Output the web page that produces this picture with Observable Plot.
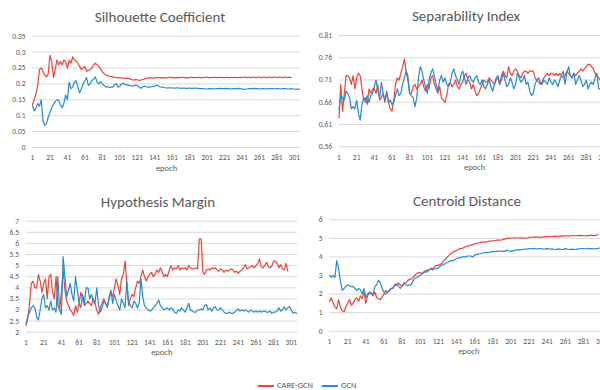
<!DOCTYPE html>
<html><head><meta charset="utf-8">
<script src="https://cdn.jsdelivr.net/npm/d3@7"></script>
<script src="https://cdn.jsdelivr.net/npm/@observablehq/plot@0.6"></script>
<style>
html,body{margin:0;padding:0;background:#fff;}
#wrap{position:relative;width:600px;height:390px;overflow:hidden;font-family:Carlito,Lato,sans-serif;color:#595959;}
.panel{position:absolute;}
.panel svg{max-width:none !important;}
.title{position:absolute;width:240px;text-align:center;font-size:15px;line-height:18px;color:#595959;white-space:nowrap;}
.leg{position:absolute;font-size:8.5px;line-height:12px;white-space:nowrap;color:#595959;}
.sw{display:inline-block;width:16px;height:1.5px;vertical-align:middle;margin-right:3px;}
</style></head>
<body><div id="wrap"></div>
<script>
const seriesNames = ["CARE-GCN", "GCN"];
const seriesColors = ["#e8453c", "#2a8ad0"];
const xTicks = [1,21,41,61,81,101,121,141,161,181,201,221,241,261,281,301];

// values every 2 epochs (1, 3, 5, ...)
const silCare = [
0.135,0.15,0.17,0.195,0.245,0.25,0.24,0.228,0.222,0.232,
0.29,0.27,0.22,0.245,0.275,0.26,0.27,0.26,0.275,0.27,
0.25,0.275,0.265,0.285,0.275,0.272,0.265,0.255,0.245,0.25,
0.255,0.24,0.242,0.245,0.25,0.26,0.265,0.26,0.255,0.247,
0.238,0.232,0.228,0.226,0.224,0.223,0.222,0.221,0.22,0.22,
0.219,0.218,0.218,0.217,0.218,0.217,0.215,0.213,0.212,0.214,
0.213,0.211,0.212,0.214,0.215,0.217,0.218,0.219,0.219,0.218,
0.219,0.22,0.22,0.219,0.22,0.219,0.219,0.22,0.22,0.221,
0.22,0.22,0.219,0.22,0.22,0.22,0.221,0.22,0.22,0.219,
0.22,0.221,0.22,0.22,0.22,0.221,0.22,0.22,0.22,0.221,
0.221,0.22,0.22,0.22,0.221,0.22,0.22,0.221,0.22,0.22,
0.22,0.221,0.22,0.22,0.221,0.22,0.221,0.22,0.22,0.221,
0.22,0.221,0.221,0.22,0.221,0.22,0.221,0.221,0.22,0.221,
0.221,0.22,0.221,0.221,0.22,0.221,0.221,0.22,0.221,0.221,
0.22,0.221,0.221,0.22,0.221,0.221,0.22,0.221,0.22];
const silGcn = [
0.133,0.115,0.125,0.138,0.13,0.15,0.085,0.07,0.075,0.095,
0.11,0.125,0.135,0.145,0.15,0.148,0.135,0.125,0.14,0.165,
0.15,0.205,0.185,0.19,0.205,0.21,0.19,0.172,0.185,0.2,
0.21,0.22,0.195,0.2,0.21,0.215,0.222,0.205,0.2,0.207,
0.2,0.195,0.19,0.192,0.188,0.19,0.19,0.198,0.2,0.19,
0.192,0.2,0.202,0.198,0.197,0.196,0.195,0.193,0.194,0.196,
0.195,0.19,0.186,0.19,0.193,0.191,0.19,0.19,0.191,0.192,
0.193,0.196,0.194,0.191,0.19,0.189,0.188,0.187,0.188,0.187,
0.188,0.187,0.187,0.188,0.187,0.186,0.187,0.187,0.186,0.186,
0.187,0.186,0.186,0.187,0.186,0.186,0.185,0.185,0.185,0.184,
0.184,0.185,0.185,0.185,0.184,0.185,0.185,0.186,0.185,0.185,
0.185,0.186,0.185,0.185,0.184,0.185,0.185,0.185,0.186,0.185,
0.184,0.183,0.184,0.184,0.185,0.185,0.185,0.186,0.185,0.185,
0.184,0.185,0.185,0.185,0.184,0.185,0.185,0.185,0.185,0.184,
0.185,0.185,0.184,0.185,0.185,0.185,0.184,0.184,0.185,0.184,
0.184,0.183,0.184,0.183];

const sepCare = [
0.625,0.70,0.64,0.68,0.72,0.72,0.715,0.70,0.72,0.69,
0.715,0.725,0.72,0.69,0.665,0.67,0.655,0.69,0.68,0.69,
0.69,0.68,0.70,0.665,0.67,0.68,0.66,0.685,0.66,0.645,
0.64,0.665,0.70,0.715,0.71,0.725,0.74,0.757,0.73,0.72,
0.68,0.68,0.695,0.70,0.69,0.695,0.70,0.71,0.695,0.685,
0.70,0.69,0.715,0.72,0.70,0.69,0.68,0.695,0.67,0.665,
0.66,0.675,0.70,0.705,0.695,0.70,0.71,0.695,0.69,0.70,
0.705,0.72,0.725,0.71,0.705,0.69,0.70,0.685,0.675,0.68,
0.69,0.70,0.71,0.705,0.705,0.715,0.71,0.705,0.70,0.71,
0.715,0.70,0.72,0.73,0.72,0.715,0.74,0.725,0.72,0.73,
0.735,0.73,0.72,0.715,0.725,0.73,0.73,0.725,0.73,0.73,
0.73,0.715,0.71,0.705,0.70,0.705,0.715,0.72,0.725,0.72,
0.725,0.725,0.72,0.725,0.72,0.725,0.72,0.715,0.72,0.73,
0.725,0.72,0.715,0.725,0.72,0.725,0.73,0.735,0.73,0.735,
0.74,0.745,0.745,0.74,0.735,0.725,0.72,0.715,0.71];
const sepGcn = [
0.645,0.675,0.67,0.665,0.685,0.68,0.67,0.645,0.65,0.645,
0.665,0.635,0.62,0.655,0.67,0.66,0.675,0.66,0.675,0.68,
0.695,0.71,0.685,0.67,0.705,0.68,0.665,0.68,0.66,0.665,
0.655,0.66,0.675,0.69,0.675,0.68,0.70,0.715,0.73,0.71,
0.68,0.675,0.67,0.65,0.67,0.715,0.74,0.73,0.71,0.695,
0.68,0.71,0.725,0.735,0.72,0.70,0.685,0.71,0.72,0.705,
0.715,0.70,0.695,0.705,0.725,0.735,0.72,0.71,0.70,0.72,
0.73,0.715,0.70,0.715,0.72,0.71,0.705,0.715,0.72,0.705,
0.70,0.71,0.695,0.69,0.70,0.71,0.695,0.685,0.70,0.715,
0.72,0.70,0.71,0.725,0.71,0.695,0.70,0.715,0.705,0.69,
0.70,0.725,0.715,0.705,0.71,0.72,0.70,0.705,0.685,0.675,
0.68,0.70,0.71,0.715,0.705,0.70,0.71,0.705,0.70,0.715,
0.705,0.70,0.71,0.705,0.695,0.71,0.72,0.73,0.70,0.725,
0.74,0.72,0.715,0.725,0.70,0.71,0.72,0.71,0.695,0.70,
0.71,0.69,0.70,0.705,0.70,0.715,0.725,0.69,0.69,0.685,
0.685,0.69,0.69,0.685];

const hypCare = [
2.3,2.6,3.3,4.2,4.3,4.0,4.0,4.6,4.3,3.8,
4.2,4.4,3.5,4.5,4.6,3.8,3.5,4.5,3.2,3.0,
3.8,4.8,3.9,3.4,3.2,3.0,2.9,2.75,3.2,2.9,
3.3,3.8,3.5,3.2,3.3,3.4,3.3,3.2,3.5,3.3,
3.0,2.8,3.1,3.3,3.5,3.3,3.2,3.5,3.8,3.6,
4.0,4.4,4.1,3.7,4.4,4.6,5.2,4.2,3.2,3.5,
3.7,3.6,4.0,4.3,4.2,4.5,4.8,4.5,4.3,4.5,
4.6,4.7,4.5,4.6,4.8,4.7,4.9,4.7,4.5,4.6,
4.5,4.8,5.0,4.8,4.9,4.85,5.0,4.8,4.9,4.85,
4.9,4.8,5.0,4.9,4.85,4.85,4.9,4.85,6.2,6.2,
4.7,4.6,4.8,4.85,4.8,4.9,4.85,4.9,4.8,4.75,
4.85,4.8,4.7,4.8,4.75,4.8,4.85,4.8,4.7,4.75,
4.65,4.75,4.8,4.9,5.05,4.85,4.9,4.95,5.0,4.9,
5.0,5.1,5.3,4.95,4.9,5.0,5.15,4.95,4.9,5.0,
5.2,5.2,5.1,4.9,5.05,4.85,4.8,5.1,4.75];
const hypGcn = [
2.4,2.7,2.9,3.1,3.2,3.1,2.7,2.55,3.0,3.5,
3.7,3.1,3.2,3.0,3.4,3.0,3.1,2.9,4.5,3.0,
2.8,5.4,4.5,3.6,3.9,4.2,3.7,3.4,4.5,3.9,
3.3,3.1,3.7,3.3,4.0,4.0,3.5,3.7,3.4,3.3,
4.0,3.2,2.9,3.1,3.4,3.3,3.1,3.6,3.9,3.3,
3.7,3.4,3.2,3.0,3.5,3.3,3.1,4.3,3.4,3.2,
3.1,3.4,3.3,3.1,3.3,4.4,3.6,3.2,3.1,3.0,
2.95,3.0,3.1,3.2,3.3,3.45,3.2,3.1,3.0,3.05,
3.1,3.0,3.1,3.05,2.9,2.85,3.0,2.95,3.1,3.0,
2.9,3.1,3.3,3.0,2.95,2.9,2.9,3.0,3.0,3.05,
3.0,3.2,3.25,3.0,3.1,2.95,3.1,3.15,3.0,3.0,
3.1,3.0,2.9,2.85,2.85,2.9,2.85,2.85,2.9,3.0,
3.05,2.95,3.0,2.95,3.0,2.95,2.9,3.0,2.95,2.9,
2.95,2.9,2.95,2.9,2.95,2.95,2.9,2.9,2.95,2.85,
2.9,2.9,2.95,3.1,2.95,3.0,3.15,3.0,3.1,3.15,
3.0,2.85,2.9,2.85];

const cenCare = [
1.6,1.8,1.5,1.3,1.2,1.7,1.3,1.1,1.05,1.3,
1.5,1.7,1.4,1.5,1.7,1.8,1.6,1.9,1.75,2.1,
1.5,1.9,2.1,2.0,1.9,2.1,1.8,1.75,1.7,1.85,
2.0,2.2,2.1,2.2,2.3,2.35,2.5,2.45,2.6,2.5,
2.4,2.55,2.6,2.7,2.8,2.8,2.9,3.0,3.1,3.15,
3.15,3.1,3.2,3.25,3.3,3.3,3.4,3.35,3.5,3.55,
3.55,3.6,3.65,3.8,3.9,4.0,4.1,4.2,4.25,4.3,
4.35,4.4,4.45,4.45,4.5,4.55,4.6,4.6,4.65,4.65,
4.7,4.72,4.75,4.77,4.8,4.8,4.8,4.82,4.85,4.85,
4.87,4.88,4.9,4.9,4.9,4.92,4.95,4.97,5.0,5.0,
5.02,5.02,5.03,5.02,5.02,5.03,5.03,5.02,5.0,5.02,
5.05,5.06,5.07,5.07,5.08,5.07,5.06,5.07,5.08,5.08,
5.1,5.09,5.1,5.1,5.12,5.11,5.12,5.12,5.13,5.12,
5.14,5.13,5.12,5.14,5.15,5.14,5.14,5.15,5.16,5.15,
5.15,5.14,5.13,5.15,5.17,5.16,5.15,5.17,5.2];
const cenGcn = [
3.0,2.9,3.0,2.9,3.8,3.4,2.7,2.2,2.3,2.4,
2.5,2.45,2.4,2.4,2.3,2.2,2.3,2.25,2.0,2.3,
1.8,2.0,2.1,2.05,2.0,2.4,2.5,2.75,2.6,2.3,
2.1,2.0,2.1,2.2,2.3,2.3,2.5,2.55,2.45,2.3,
2.45,2.6,2.5,2.45,2.5,2.5,2.7,2.85,2.9,2.95,
3.0,3.1,3.15,3.2,3.2,3.3,3.35,3.3,3.4,3.35,
3.4,3.5,3.55,3.6,3.65,3.7,3.75,3.8,3.8,3.85,
3.9,3.95,3.95,4.0,4.0,4.0,4.05,4.05,4.05,4.0,
4.1,4.12,4.15,4.17,4.2,4.22,4.25,4.23,4.25,4.27,
4.3,4.28,4.3,4.31,4.32,4.3,4.3,4.33,4.35,4.32,
4.3,4.33,4.35,4.37,4.4,4.38,4.4,4.41,4.42,4.43,
4.45,4.44,4.45,4.46,4.43,4.44,4.45,4.44,4.42,4.43,
4.45,4.43,4.42,4.43,4.4,4.41,4.43,4.42,4.4,4.41,
4.45,4.42,4.4,4.41,4.42,4.4,4.41,4.43,4.44,4.45,
4.45,4.44,4.45,4.46,4.45,4.43,4.44,4.45,4.46,4.48,
4.48,4.47,4.46,4.47];

const silTicks = [0,0.05,0.1,0.15,0.2,0.25,0.3,0.35];
const sepTicks = [0.56,0.61,0.66,0.71,0.76,0.81];
const hypTicks = [2,2.5,3,3.5,4,4.5,5,5.5,6,6.5,7];
const cenTicks = [0,1,2,3,4,5,6];

const titles = ["Silhouette Coefficient","Separability Index","Hypothesis Margin","Centroid Distance"];

const font = "Carlito, Lato, sans-serif";
const wrap = document.getElementById("wrap");

function rowsOf(care, gcn) {
  const rows = [];
  care.forEach((v, i) => rows.push({epoch: 1 + 2 * i, value: v, series: seriesNames[0]}));
  gcn.forEach((v, i) => rows.push({epoch: 1 + 2 * i, value: v, series: seriesNames[1]}));
  return rows;
}

function makePanel(cfg) {
  const svg = Plot.plot({
    width: cfg.width, height: cfg.height,
    marginLeft: cfg.ml, marginRight: cfg.mr, marginTop: cfg.mt, marginBottom: cfg.mb,
    x: {domain: [1, 308]},
    y: {domain: [cfg.ticks[0], cfg.ticks[cfg.ticks.length - 1]]},
    color: {domain: seriesNames, range: seriesColors},
    style: {fontFamily: font, fontSize: "7.5px", color: "#595959", background: "transparent", maxWidth: "none"},
    marks: [
      Plot.gridY(cfg.ticks, {stroke: "#d9d9d9", strokeOpacity: 1, strokeWidth: 1}),
      Plot.axisY(cfg.ticks, {tickSize: 0, tickPadding: 7, label: null, tickFormat: d => `${+d.toFixed(2)}`}),
      Plot.axisX(xTicks, {tickSize: 0, tickPadding: 7.5, label: null, tickFormat: d => `${d}`}),
      Plot.lineY(rowsOf(cfg.care, cfg.gcn), {x: "epoch", y: "value", z: "series", stroke: "series", strokeWidth: 1.2}),
      Plot.text(["epoch"], {text: d => d, frameAnchor: "bottom", dy: 23, fontSize: 8.5, fill: "#595959"})
    ]
  });
  svg.style.maxWidth = "none";
  const div = document.createElement("div");
  div.className = "panel";
  div.style.left = cfg.left + "px";
  div.style.top = cfg.top + "px";
  div.style.width = cfg.width + "px";
  div.style.height = cfg.height + "px";
  div.appendChild(svg);
  wrap.appendChild(div);
  const t = document.createElement("div");
  t.className = "title";
  t.textContent = cfg.title;
  t.style.left = (cfg.tx - 120) + "px";
  t.style.top = (cfg.ty - 9) + "px";
  wrap.appendChild(t);
}

makePanel({title: titles[0], care: silCare, gcn: silGcn, ticks: silTicks,
  left: 0, top: 0, width: 305, height: 185, ml: 32, mr: 5, mt: 35.7, mb: 38, tx: 160, ty: 17});
makePanel({title: titles[1], care: sepCare, gcn: sepGcn, ticks: sepTicks,
  left: 300, top: 0, width: 320, height: 185, ml: 38.5, mr: 10.4, mt: 35, mb: 38.7, tx: 466, ty: 16});
makePanel({title: titles[2], care: hypCare, gcn: hypGcn, ticks: hypTicks,
  left: 0, top: 185, width: 305, height: 185, ml: 25.5, mr: 8, mt: 35.7, mb: 38.3, tx: 158, ty: 201.7});
makePanel({title: titles[3], care: cenCare, gcn: cenGcn, ticks: cenTicks,
  left: 300, top: 185, width: 320, height: 185, ml: 29, mr: 12.5, mt: 34.3, mb: 39.3, tx: 467, ty: 200.7});

const leg = document.createElement("div");
leg.className = "leg";
leg.style.left = "258px";
leg.style.top = "379px";
leg.innerHTML = `<span class="sw" style="background:${seriesColors[0]}"></span><span>${seriesNames[0]}</span>` +
  `<span class="sw" style="background:${seriesColors[1]};margin-left:9px"></span><span>${seriesNames[1]}</span>`;
wrap.appendChild(leg);
</script></body></html>
